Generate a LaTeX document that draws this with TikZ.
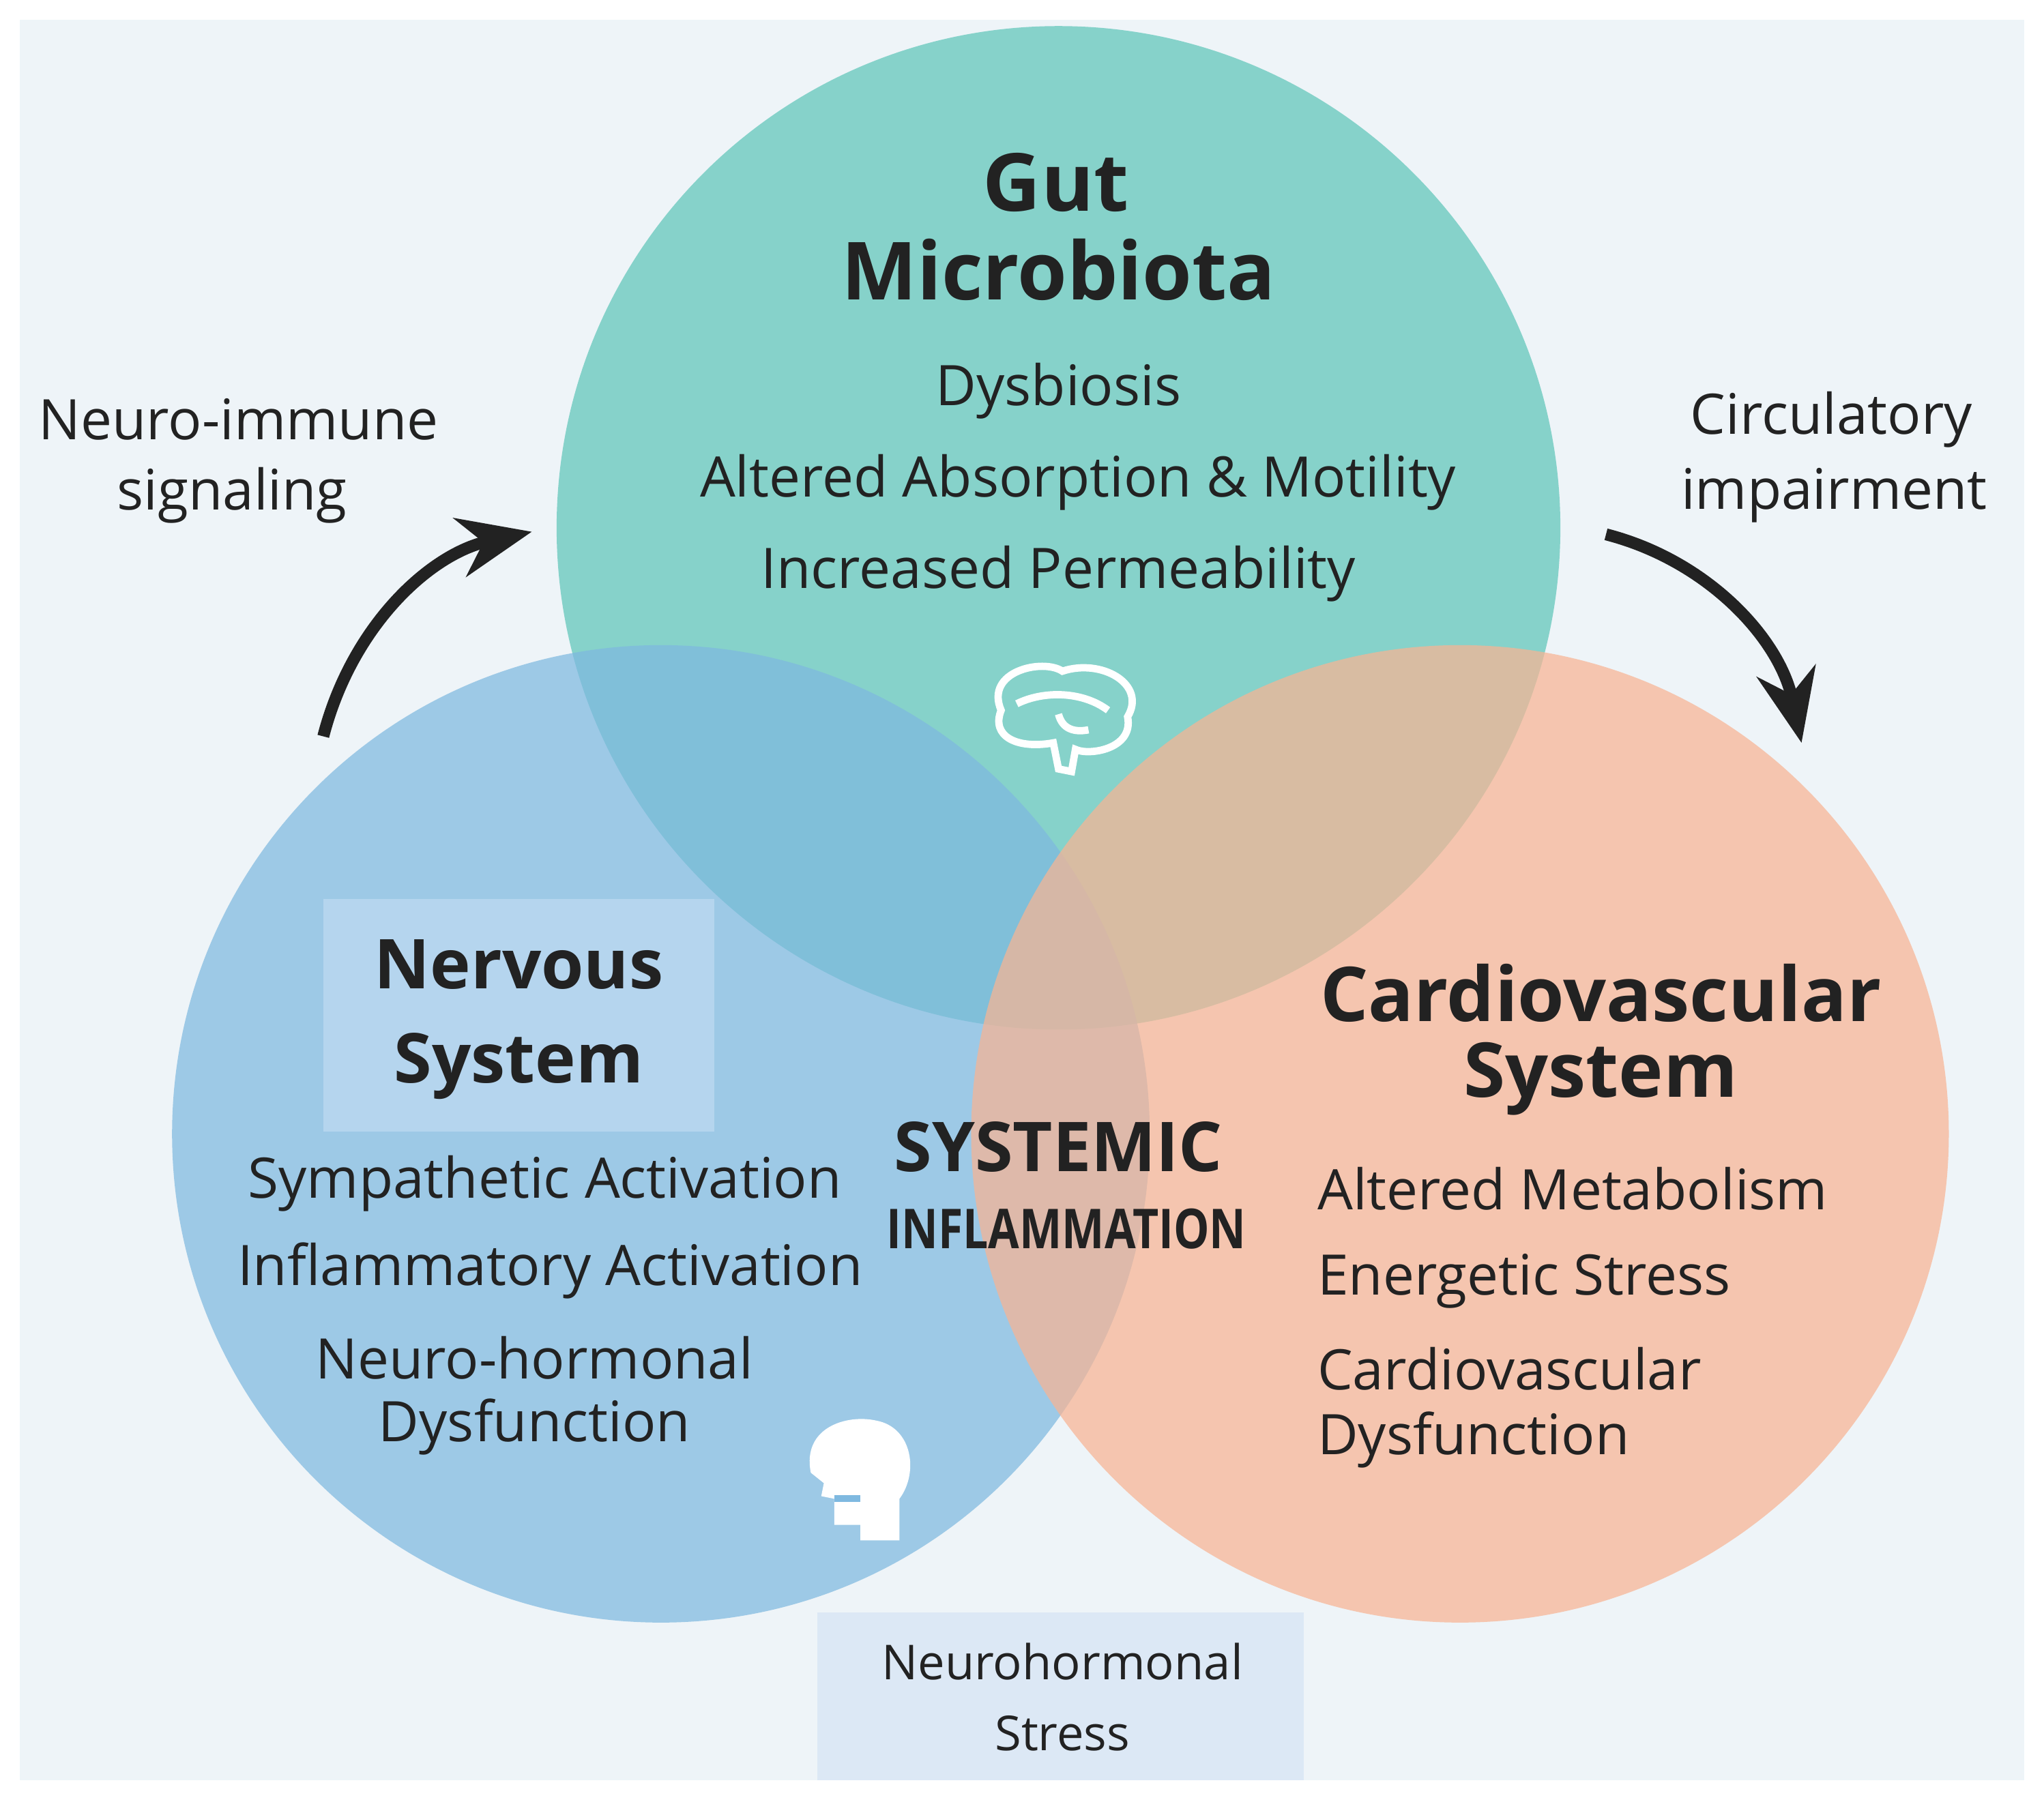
\documentclass[tikz,border=0pt]{standalone}
\usepackage{fontspec}
\setmainfont{Open Sans}
\usetikzlibrary{arrows.meta}
\definecolor{bgc}{HTML}{EEF4F8}
\definecolor{gutc}{HTML}{86D2CA}
\definecolor{nerc}{HTML}{7FB9E0}
\definecolor{carc}{HTML}{F8B493}
\definecolor{nbox}{HTML}{BCD8F0}
\definecolor{sbox}{HTML}{DCE8F5}
\definecolor{txt}{HTML}{222222}
\begin{document}
\begin{tikzpicture}[x=0.01cm,y=-0.01cm,
  every node/.style={text=txt,align=center,inner sep=0pt},
  ttl/.style={font=\bfseries\fontsize{17.5}{20}\selectfont},
  sub/.style={font=\bfseries\fontsize{15}{18}\selectfont},
  body/.style={font=\fontsize{12.2}{15}\selectfont},
  arr/.style={line width=2.6pt,draw=txt,-{Stealth[length=16pt,width=13pt]}}]
\useasboundingbox (0,0) rectangle (1568,1381);
\fill[white] (0,0) rectangle (1568,1381);
\fill[bgc] (15,15) rectangle (1553,1366);
\fill[gutc] (812,405) circle (385);
\fill[nerc,opacity=0.72] (507,870) circle (375);
\fill[carc,opacity=0.72] (1120,870) circle (375);
\fill[nbox,opacity=0.8] (248,690) rectangle (548,868);
\fill[sbox] (627,1237) rectangle (1000,1366);
% icons
\begin{scope}[white,line width=1.6pt]
\draw (768,545) .. controls (755,515) and (800,505) .. (815,515) .. controls (845,505) and (880,525) .. (865,550) .. controls (870,575) and (835,580) .. (825,575) -- (822,592) -- (812,590) -- (808,570) .. controls (780,575) and (760,565) .. (768,545) -- cycle;
\draw (780,540) .. controls (800,530) and (830,530) .. (850,545);
\draw (812,548) .. controls (815,560) and (825,562) .. (835,560);
\end{scope}
\fill[white] (622,1130) .. controls (615,1095) and (650,1085) .. (672,1090) .. controls (700,1095) and (705,1130) .. (690,1150) -- (690,1182) -- (660,1182) -- (660,1170) -- (640,1170) -- (640,1150) -- (630,1148) -- (632,1138) -- cycle;
\draw[nerc,line width=1.5pt] (640,1150) -- (660,1150);
% texts
\node[ttl] (gut) at (810,140) {Gut};
\node[ttl] (mic) at (812,207) {Microbiota};
\node[body] (g1) at (812,300) {Dysbiosis};
\node[body] (g2) at (827,370) {Altered Absorption \& Motility};
\node[body] (g3) at (812,440) {Increased Permeability};
\node[body] (ni) at (183,322) {Neuro-immune};
\node[body] (sig) at (178,380) {signaling};
\node[body] (ci) at (1405,322) {Circulatory};
\node[body] (imp) at (1407,380) {impairment};
\node[sub] (n1) at (398,740) {Nervous};
\node[sub] (n2) at (398,818) {System};
\node[body] (b1) at (418,908) {Sympathetic Activation};
\node[body] (b2) at (422,975) {Inflammatory Activation};
\node[body] (b3) at (410,1042) {Neuro-hormonal};
\node[body] (b4) at (410,1095) {Dysfunction};
\node[sub] (sy) at (812,880) {SYSTEMIC};
\node[font=\bfseries\fontsize{12}{14}\selectfont] (inf) at (818,943) {\scalebox{0.82}[1]{INFLAMMATION}};
\node[ttl,font=\bfseries\fontsize{16.5}{19}\selectfont] (c1) at (1228,762) {Cardiovascular};
\node[ttl,font=\bfseries\fontsize{16.5}{19}\selectfont] (c2) at (1228,828) {System};
\node[body,anchor=west] (d1) at (1010,912) {Altered Metabolism};
\node[body,anchor=west] (d2) at (1010,983) {Energetic Stress};
\node[body,anchor=west] (d3) at (1010,1050) {Cardiovascular};
\node[body,anchor=west] (d4) at (1010,1105) {Dysfunction};
\node[font=\fontsize{10.5}{12}\selectfont] (s1) at (815,1275) {Neurohormonal};
\node[font=\fontsize{10.5}{12}\selectfont] (s2) at (815,1330) {Stress};
% arrows
\coordinate (a1) at (248,565); \coordinate (a2) at (408,408);
\coordinate (a3) at (1232,410); \coordinate (a4) at (1382,570);
\draw[arr] (a1) .. controls (270,480) and (330,425) .. (a2);
\draw[arr] (a3) .. controls (1310,430) and (1365,490) .. (a4);
\end{tikzpicture}
\end{document}
